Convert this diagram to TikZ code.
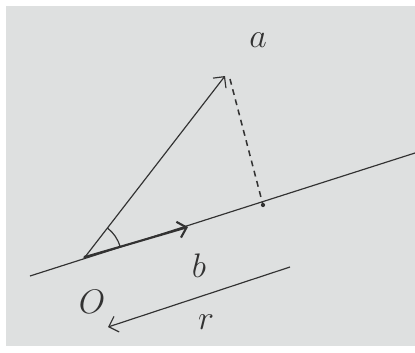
\documentclass[tikz,border=0pt]{standalone}
\usepackage{tikz}
\usetikzlibrary{positioning, calc, arrows.meta, angles, quotes}

\definecolor{board}{RGB}{222,224,224}
\definecolor{ink}{RGB}{50,50,50}

\tikzset{
    pen/.style={ink, line width=1pt},
    hand/.style={ink, font=\huge, scale=1.4}
}

\begin{document}
\begin{tikzpicture}[x=0.03cm, y=-0.03cm]

    % whiteboard area
    \useasboundingbox (0,0) rectangle (415,352);
    \fill[board] (6,6) rectangle (415,346);

    % points
    \coordinate (O) at (85,257);
    \coordinate (L) at (30,276);
    \coordinate (R) at (415,153);
    \coordinate (A) at (225,76);
    \coordinate (B) at (188,227);
    \coordinate (P) at (263,205);

    % line through O
    \draw[pen] (L) -- (R);

    % vector a
    \draw[pen, -{Straight Barb[length=7pt]}] (O) -- (A);

    % vector b
    \draw[ink, line width=1.8pt, -{Straight Barb[length=7pt]}] (O) -- (B);

    % projection of a
    \draw[pen, dash pattern=on 5pt off 4pt, line width=1.3pt] (230,79) -- (P);
    \fill[ink] (P) circle (1.8pt);
    \fill[ink] (O) circle (1.5pt);

    % angle between a and b
    \draw[pen] pic[draw, angle radius=1.1cm] {angle=B--O--A};

    % length of projection
    \coordinate (r1) at (290,267);
    \coordinate (r2) at (108,327);
    \draw[pen, -{Straight Barb[length=7pt]}] (r1) -- (r2);

    % labels
    \node[hand] (la) at (258,40) {$a$};
    \node[hand] (lb) at (199,266) {$b$};
    \node[hand] (lo) at (92,302) {$O$};
    \node[hand] (lr) at (206,322) {$r$};

\end{tikzpicture}
\end{document}
